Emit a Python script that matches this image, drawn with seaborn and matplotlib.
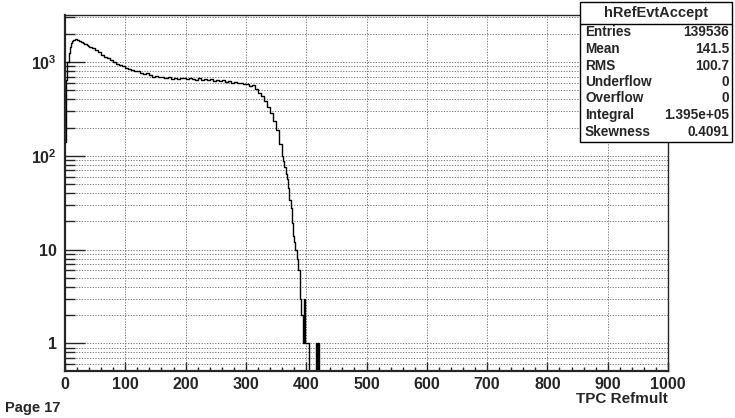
import numpy as np
import pandas as pd
import matplotlib
matplotlib.use("Agg")
import matplotlib.pyplot as plt
from matplotlib.ticker import FixedLocator, LogLocator, MultipleLocator, NullFormatter
from matplotlib.patches import Rectangle
import seaborn as sns

# histogram contents (TPC Refmult, log y)
rise_edges = np.arange(0, 42, 2)          # 0..40, 2-wide bins
rise_counts = [140, 640, 1000, 1250, 1450, 1600, 1680, 1720, 1745, 1750,
               1730, 1700, 1680, 1650, 1620, 1600, 1570, 1550, 1520, 1490]

body_edges = np.arange(40, 365, 5)        # 40..360, 5-wide bins
body_counts = [1460, 1410, 1340, 1280, 1200, 1140, 1090, 1050, 1000, 950,
               930, 900, 870, 840, 830, 795, 805, 770, 745, 755,
               720, 700, 712, 690, 700, 672, 690, 662, 680, 658,
               676, 668, 655, 680, 660, 648, 668, 642, 660, 638,
               655, 632, 648, 622, 640, 612, 628, 603, 618, 592,
               598, 578, 588, 555, 565, 520, 470, 430, 385, 335,
               285, 235, 190, 135]

tail_edges = np.arange(360, 432, 2)       # 360..430, 2-wide bins
tail_counts = [100, 88, 75, 64, 57, 45, 34, 28, 19, 14,
               12, 10, 8, 6, 6, 3, 2, 1, 3, 1,
               1, 1, 0, 0, 0, 0, 0, 0, 1, 0,
               1, 0, 0, 0, 0]

hist_name = "hRefEvtAccept"
stat_names = ["Entries", "Mean", "RMS", "Underflow", "Overflow", "Integral", "Skewness"]
stat_values = ["139536", "141.5", "100.7", "0", "0", "1.395e+05", "0.4091"]

y_major = [1, 10, 100, 1000]
y_labels = ["1", "10", r"$\mathbf{10^{2}}$", r"$\mathbf{10^{3}}$"]

edges = np.concatenate([rise_edges, body_edges[1:], tail_edges[1:]])
counts = rise_counts + body_counts + tail_counts
df = pd.DataFrame({"refmult": (edges[:-1] + edges[1:]) / 2, "n": counts})

sns.set_style("ticks")
plt.rcParams["font.family"] = ["Liberation Sans", "DejaVu Sans"]
plt.rcParams["font.weight"] = "bold"
plt.rcParams["mathtext.fontset"] = "custom"
plt.rcParams["mathtext.bf"] = "Liberation Sans:bold"
plt.rcParams["mathtext.rm"] = "Liberation Sans:bold"

W, H = 735, 418
fig = plt.figure(figsize=(W / 100, H / 100), dpi=100)
fig.patch.set_facecolor("white")
ax = fig.add_axes([65 / W, 1 - 371 / H, (668 - 65) / W, (371 - 15) / H])

sns.histplot(data=df, x="refmult", weights="n", bins=[float(e) for e in edges],
             element="step", fill=False, color="black", linewidth=1.0, ax=ax)

ax.set_yscale("log")
ax.set_xlim(0, 1000)
ax.set_ylim(0.506, 3170)
ax.set_xlabel("")
ax.set_ylabel("")

ax.yaxis.set_major_locator(FixedLocator(y_major))
ax.set_yticklabels(y_labels)
ax.yaxis.set_minor_locator(LogLocator(base=10, subs=np.arange(2, 10)))
ax.yaxis.set_minor_formatter(NullFormatter())
ax.xaxis.set_major_locator(MultipleLocator(100))
ax.xaxis.set_minor_locator(MultipleLocator(20))

ax.tick_params(axis="y", which="major", direction="in", length=14.4, width=1,
               labelsize=11.5, pad=6)
ax.tick_params(axis="y", which="minor", direction="in", length=7.2, width=1)
ax.tick_params(axis="x", which="major", direction="in", length=6.5, width=1,
               labelsize=11.5, pad=4)
ax.tick_params(axis="x", which="minor", direction="in", length=3, width=1)

grid_kw = dict(color="#707070", linewidth=0.7, linestyle=(0, (1.2, 1.6)))
ax.grid(True, axis="x", which="major", **grid_kw)
ax.grid(True, axis="y", which="both", **grid_kw)
ax.set_axisbelow(True)

for side in ["left", "bottom"]:
    ax.spines[side].set_linewidth(1.6)
for side in ["top", "right"]:
    ax.spines[side].set_linewidth(1.0)
    ax.spines[side].set_visible(True)

# stats box, ROOT style
bx0, bx1, by0, by1 = 579.5, 732, 2, 142
fig.patches.append(Rectangle((bx0 / W, 1 - by1 / H), (bx1 - bx0) / W, (by1 - by0) / H,
                             transform=fig.transFigure, facecolor="white",
                             edgecolor="black", linewidth=1.0, zorder=5))
fig.lines.append(plt.Line2D([bx0 / W, bx1 / W], [1 - 23.5 / H, 1 - 23.5 / H],
                            transform=fig.transFigure, color="black", lw=1.0, zorder=6))
fig.text((bx0 + bx1) / 2 / W, 1 - 13 / H, hist_name, ha="center", va="center",
         fontsize=10.5, zorder=7)
for i, (name, val) in enumerate(zip(stat_names, stat_values)):
    yy = 1 - (32.5 + i * 16.5) / H
    fig.text(585 / W, yy, name, ha="left", va="center", fontsize=9.8, zorder=7)
    fig.text(729 / W, yy, val, ha="right", va="center", fontsize=9.8, zorder=7)

fig.text(668 / W, 1 - 399 / H, "TPC Refmult", ha="right", va="center", fontsize=11)
fig.text(5 / W, 1 - 408 / H, "Page 17", ha="left", va="center", fontsize=10.5)

fig.savefig("out.png", dpi=100)
